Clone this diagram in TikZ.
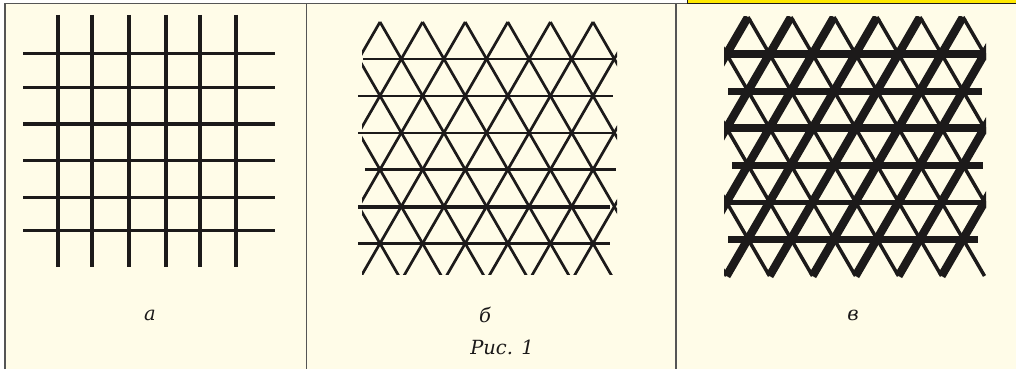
\documentclass[tikz,border=0pt]{standalone}
\usepackage{fontspec}
\setmainfont{DejaVu Serif}
\definecolor{paper}{HTML}{FFFCE8}
\definecolor{ink}{HTML}{1C1A1A}
\definecolor{frame}{HTML}{555555}
\definecolor{tag}{HTML}{FFE900}
\tikzset{
  gridline/.style={ink, line width=#1},
  gridline/.default=2.4,
  caption/.style={font=\itshape\fontsize{19.5}{23}\selectfont, text=ink, inner sep=0pt},
}
\begin{document}
\begin{tikzpicture}[x=1pt,y=-1pt,line cap=butt]
\useasboundingbox (0,0) rectangle (1016,369);
\fill[white] (0,0) rectangle (1016,369);
\fill[paper] (5,3.5) rectangle (1016,369);
\fill[tag] (687,0) rectangle (1016,3);
\draw[ink, line width=1] (687,0) -- (687,3.2) -- (1016,3.2);
\draw[frame, line width=1.5] (5,369) -- (5,3.5) -- (687,3.5);
\draw[frame, line width=1.5] (306.5,3.5) -- (306.5,369);
\draw[frame, line width=1.5] (676,3.5) -- (676,369);

% panel a
\foreach \x in {58,92.3,129,165.7,199.7,236.3}
  \draw[gridline=3.8] (\x,15) -- (\x,267);
\foreach \y in {53.3,87.3,124,160.7,197.3,230.7}
  \draw[gridline=3.5] (23.3,\y) -- (275,\y);

% panel b
\begin{scope}
\clip (362,22) rectangle (617,274);
\foreach \k in {-7,...,8} {
  \draw[gridline=2.7] (380+\k*42.6,22) -- ++(7*21.3,7*36.9);
  \draw[gridline=2.7] (380+\k*42.6,22) -- ++(-7*21.3,7*36.9);
}
\end{scope}
\foreach \y/\a/\b/\w in {58.9/363/616/2.3, 95.8/358/613/2.3, 132.7/358/616/2.3, 169.6/365/616/2.3, 206.5/358/610/4, 243.4/358/610/2.5}
  \draw[gridline=\w] (\a,\y) -- (\b,\y);

% panel c
\begin{scope}
\clip (724,17) rectangle (986,278);
\foreach \k in {-7,...,8} {
  \draw[gridline=3.5] (748+\k*43,17) -- ++(7*21.5,7*37);
  \draw[gridline=8.3] (748+\k*43,17) -- ++(-7*21.5,7*37);
}
\end{scope}
\foreach \y/\a/\b/\w in {54/725/983/8, 91/728/982/7, 128/725/985/8, 165/732/983/7, 202/725/982/5, 239/728/978/7}
  \draw[gridline=\w] (\a,\y) -- (\b,\y);

% labels
\node[caption] (la) at (150,315) {а};
\node[caption] (lb) at (485,315) {б};
\node[caption] (lc) at (853,315) {в};
\node[caption] (fig) at (502,347) {Рис. 1};
\end{tikzpicture}
\end{document}
